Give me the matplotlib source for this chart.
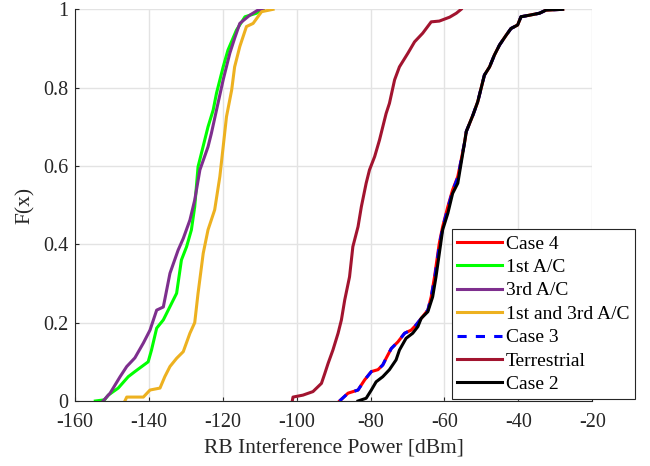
import numpy as np
import matplotlib
matplotlib.use('Agg')
import matplotlib.pyplot as plt

plt.rcParams['font.family'] = ['Liberation Serif', 'DejaVu Serif']
plt.rcParams['axes.unicode_minus'] = False

# CDF curves (x in dBm, F)
case2_x = [-83.4, -81.2, -79.8, -78.5, -76.7, -74.9, -73.1, -72.2, -70.4, -68.6,
           -67.2, -66.3, -64.5, -63.2, -62.3, -61.4, -60.5, -59.1, -57.8, -56.4,
           -55.5, -54.6, -54.1, -52.3, -51.0, -50.1, -49.2, -47.8, -46.5, -45.1,
           -43.3, -42.0, -40.2, -39.3, -37.0, -34.3, -32.5, -28.0]
case2_f = [0.0, 0.007, 0.028, 0.049, 0.062, 0.08, 0.105, 0.13, 0.16, 0.173,
           0.19, 0.211, 0.228, 0.266, 0.317, 0.377, 0.437, 0.479, 0.53, 0.556,
           0.607, 0.658, 0.688, 0.73, 0.764, 0.798, 0.832, 0.853, 0.883, 0.909,
           0.934, 0.951, 0.96, 0.981, 0.985, 0.99, 0.998, 1.0]

case4_x = [-88.4, -86.1, -83.4, -81.6, -79.8, -78.0, -76.7, -75.8, -74.4, -72.6,
           -70.8, -69.0, -67.7, -66.3, -64.5, -63.6, -62.7, -61.4, -60.5, -59.1,
           -57.8, -56.4, -55.5, -54.6, -54.1, -52.3, -51.0, -50.1, -49.2, -47.8,
           -46.5, -45.1, -43.3, -42.0, -40.2, -39.3, -37.0, -34.3, -32.5, -28.0]
case4_f = [0.0, 0.02, 0.028, 0.054, 0.075, 0.08, 0.092, 0.109, 0.134, 0.151,
           0.173, 0.181, 0.194, 0.211, 0.232, 0.266, 0.317, 0.403, 0.445, 0.496,
           0.539, 0.573, 0.615, 0.658, 0.688, 0.73, 0.764, 0.798, 0.832, 0.853,
           0.883, 0.909, 0.934, 0.951, 0.96, 0.981, 0.985, 0.99, 0.998, 1.0]

case3_x = [-88.4, -86.1, -83.4, -81.6, -79.8, -78.0, -76.7, -75.8, -74.4, -72.6,
           -70.8, -69.0, -67.7, -66.3, -64.5, -63.6, -62.6, -61.3, -60.4, -59.0,
           -57.7, -56.3, -55.5, -54.6, -54.1, -52.3, -51.0, -50.1, -49.2, -47.8,
           -46.5, -45.1, -43.3, -42.0, -40.2, -39.3, -37.0, -34.3, -32.5, -28.0]
case3_f = case4_f

terr_x = [-101.2, -101.0, -98.3, -95.6, -93.3, -92.4, -91.5, -90.2, -88.8, -87.9,
          -87.0, -85.7, -84.8, -83.4, -82.5, -81.2, -80.3, -78.9, -77.6, -75.8,
          -74.9, -73.5, -72.2, -69.9, -68.1, -65.9, -63.6, -61.4, -58.6, -56.8, -55.5]
terr_f = [0.0, 0.01, 0.015, 0.024, 0.045, 0.07, 0.096, 0.13, 0.173, 0.207,
          0.258, 0.317, 0.394, 0.445, 0.496, 0.556, 0.59, 0.624, 0.666, 0.734,
          0.76, 0.82, 0.853, 0.888, 0.917, 0.939, 0.968, 0.97, 0.98, 0.99, 1.0]

ac1_x = [-154.5, -152.0, -151.0, -148.3, -145.6, -143.8, -140.2, -139.3, -137.9, -136.1,
         -132.5, -131.2, -129.8, -128.5, -127.6, -126.7, -124.0, -122.6, -121.7, -119.9,
         -118.6, -116.3, -114.0, -110.9, -109.1]
ac1_f = [0.0, 0.003, 0.015, 0.033, 0.062, 0.075, 0.10, 0.13, 0.186, 0.207,
         0.275, 0.36, 0.394, 0.437, 0.496, 0.598, 0.70, 0.743, 0.786, 0.853,
         0.896, 0.947, 0.981, 0.99, 1.0]

ac3_x = [-152.4, -150.5, -147.8, -146.0, -143.8, -141.5, -139.7, -137.9, -136.1, -134.3,
         -132.1, -130.7, -128.9, -127.6, -126.2, -124.0, -123.1, -121.7, -119.9, -118.1,
         -116.8, -115.4, -112.7, -110.5, -109.1]
ac3_f = [0.0, 0.02, 0.062, 0.088, 0.11, 0.148, 0.181, 0.232, 0.24, 0.326,
         0.385, 0.415, 0.462, 0.513, 0.59, 0.649, 0.683, 0.743, 0.82, 0.888,
         0.926, 0.964, 0.985, 0.998, 1.0]

ac13_x = [-146.5, -146.0, -141.5, -139.7, -137.0, -135.7, -134.3, -132.5, -130.7, -128.9,
          -127.6, -126.7, -125.3, -124.0, -122.2, -120.8, -119.9, -119.0, -117.6, -116.8,
          -115.4, -113.6, -111.8, -110.5, -109.5, -106.4]
ac13_f = [0.0, 0.01, 0.01, 0.028, 0.033, 0.062, 0.088, 0.109, 0.126, 0.173,
          0.2, 0.275, 0.377, 0.437, 0.488, 0.573, 0.649, 0.726, 0.794, 0.853,
          0.905, 0.956, 0.964, 0.981, 0.994, 1.0]

fig = plt.figure(figsize=(6.5, 4.66), dpi=100)
ax = fig.add_axes([0.1154, 0.1395, 0.7958, 0.8405])

lw = 2.2
ax.plot(case4_x, case4_f, color='#ff0000', lw=lw, label='Case 4')
ax.plot(ac1_x, ac1_f, color='#00ff00', lw=lw, label='1st A/C')
ax.plot(ac3_x, ac3_f, color='#7e2f8e', lw=lw, label='3rd A/C')
ax.plot(ac13_x, ac13_f, color='#edb120', lw=lw, label='1st and 3rd A/C')
ax.plot(case3_x, case3_f, color='#0000ff', lw=lw, ls=(0, (3, 3)), label='Case 3')
ax.plot(terr_x, terr_f, color='#a2142f', lw=lw, label='Terrestrial')
ax.plot(case2_x, case2_f, color='#000000', lw=lw, label='Case 2')

ax.set_xlim(-160, -20)
ax.set_ylim(0, 1)
ax.set_xticks(np.arange(-160, -19, 20))
ax.set_yticks([0, 0.2, 0.4, 0.6, 0.8, 1])
ax.set_yticklabels(['0', '0.2', '0.4', '0.6', '0.8', '1'])
ax.tick_params(direction='in', length=3, labelsize=14.5, colors='#262626')
ax.tick_params(axis='x', pad=9)
ax.tick_params(axis='y', pad=5)
ax.grid(True, color='#e3e3e3', lw=1)
ax.set_axisbelow(True)
for s in ['top', 'right']:
    ax.spines[s].set_visible(False)
for s in ['bottom', 'left']:
    ax.spines[s].set_color('#262626')

ax.set_xlabel('RB Interference Power [dBm]', fontsize=15.5, color='#262626', labelpad=5)
ax.set_ylabel('F(x)', fontsize=15.5, color='#262626', labelpad=6)

leg = ax.legend(loc='lower left', bbox_to_anchor=(0.728, 0.005), borderaxespad=0,
                fontsize=14, frameon=True, fancybox=False, framealpha=1,
                edgecolor='#262626', handlelength=2.3, handletextpad=0.2,
                labelspacing=0.3, borderpad=0.3)
leg.get_frame().set_linewidth(0.8)

fig.savefig('out.png', dpi=100)
